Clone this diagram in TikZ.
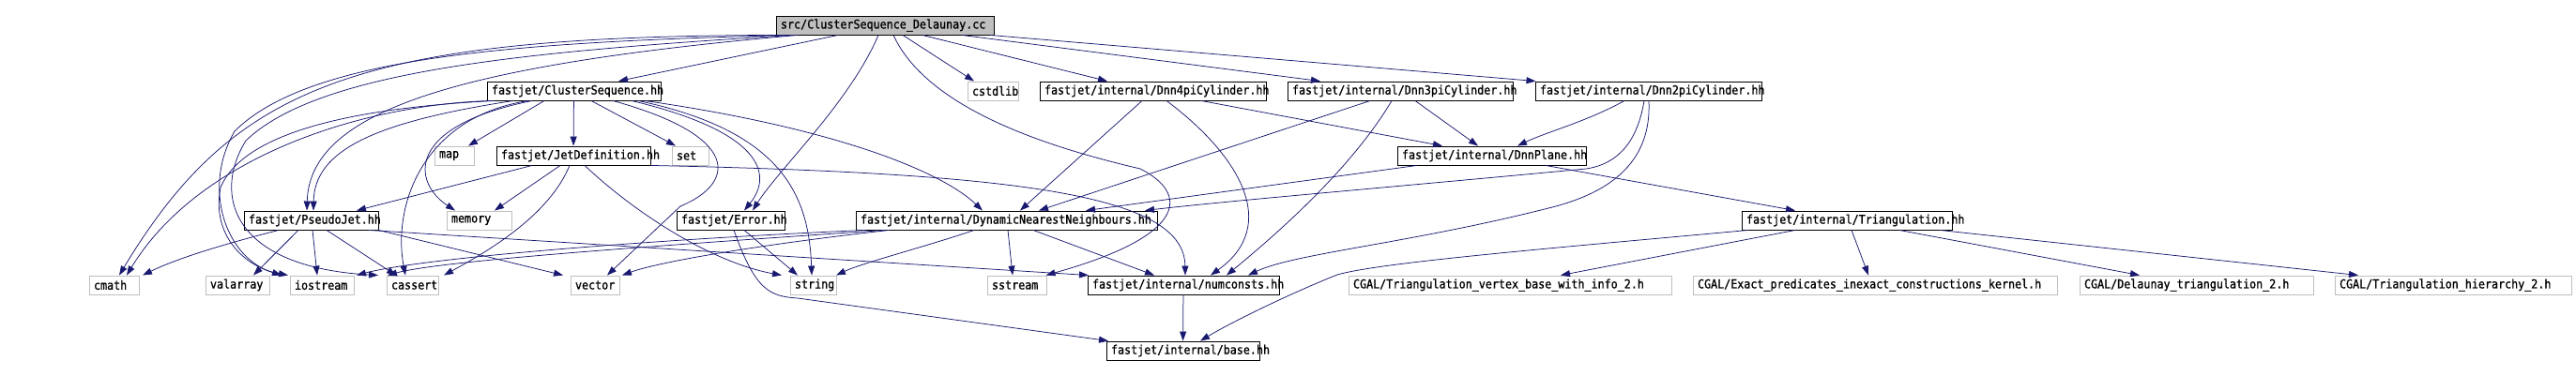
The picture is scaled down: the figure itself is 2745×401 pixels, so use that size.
\documentclass[tikz,border=0pt]{standalone}
\usepackage{fontspec}
\newfontfamily\dxfont[FakeStretch=0.9,FakeBold=1]{DejaVu Sans Mono}
\usetikzlibrary{arrows.meta}
\definecolor{navy}{HTML}{191970}
\definecolor{boxgrey}{HTML}{BFBFBF}
\hyphenpenalty=10000

\begin{document}
\begin{tikzpicture}[x=1pt,y=-1pt,
  hdr/.style={draw=black, fill=white, line width=0.9pt, minimum height=20pt, inner xsep=5pt, inner ysep=0pt,
    align=left, font=\dxfont\fontsize{13}{15}\selectfont},
  sys/.style={hdr, draw=boxgrey},
  top/.style={hdr, fill=boxgrey},
  dep/.style={draw=navy, line width=0.75pt, -{Triangle[length=10pt,width=7pt]}}]
\useasboundingbox (0,0) rectangle (2745,401);

\node[top, text width=222pt] (root) at (943,27) {src/ClusterSequence\_Delaunay.cc};
\node[hdr, text width=175pt] (CS) at (611.5,97) {fastjet/ClusterSequence.hh};
\node[sys, text width=44pt] (cstdlib) at (1058,97) {cstdlib};
\node[hdr, text width=231pt] (Dnn4pi) at (1228.5,97) {fastjet/internal/Dnn4piCylinder.hh};
\node[hdr, text width=230pt] (Dnn3pi) at (1492,97) {fastjet/internal/Dnn3piCylinder.hh};
\node[hdr, text width=231pt] (Dnn2pi) at (1756.5,97) {fastjet/internal/Dnn2piCylinder.hh};
\node[sys, text width=32pt] (map) at (484,166) {map};
\node[hdr, text width=154pt] (JetDef) at (611,166) {fastjet/JetDefinition.hh};
\node[sys, text width=29pt] (set) at (735.5,166) {set};
\node[hdr, text width=191pt] (DnnPlane) at (1589.5,166) {fastjet/internal/DnnPlane.hh};
\node[hdr, text width=133pt] (PseudoJet) at (331.5,235) {fastjet/PseudoJet.hh};
\node[sys, text width=59pt] (memory) at (510.5,235) {memory};
\node[hdr, text width=105pt] (Error) at (778.5,235) {fastjet/Error.hh};
\node[hdr, text width=311pt] (DNN) at (1072.5,235) {fastjet/internal/DynamicNearestNeighbours.hh};
\node[hdr, text width=214pt] (Triang) at (1968,235) {fastjet/internal/Triangulation.hh};
\node[sys, text width=43pt] (cmath) at (121.5,304) {cmath};
\node[sys, text width=58pt] (valarray) at (253,304) {valarray};
\node[sys, text width=58pt] (iostream) at (343,304) {iostream};
\node[sys, text width=45pt] (cassert) at (439.5,304) {cassert};
\node[sys, text width=42pt] (vector) at (634,304) {vector};
\node[sys, text width=39pt] (string) at (866.5,304) {string};
\node[sys, text width=53pt] (sstream) at (1083.5,304) {sstream};
\node[hdr, text width=194pt] (numconsts) at (1261,304) {fastjet/internal/numconsts.hh};
\node[sys, text width=334pt] (CGALvb) at (1609,304) {CGAL/Triangulation\_vertex\_base\_with\_info\_2.h};
\node[sys, text width=378pt] (CGALep) at (1998,304) {CGAL/Exact\_predicates\_inexact\_constructions\_kernel.h};
\node[sys, text width=239pt] (CGALdt) at (2340.5,304) {CGAL/Delaunay\_triangulation\_2.h};
\node[sys, text width=242pt] (CGALth) at (2614,304) {CGAL/Triangulation\_hierarchy\_2.h};
\node[hdr, text width=153pt] (base) at (1260.5,374) {fastjet/internal/base.hh};

% src/ClusterSequence_Delaunay.cc
\draw[dep] ([xshift=-108pt]root.south) .. controls (380,38) and (250,90) .. ([xshift=5.5pt]cmath.north);
\draw[dep] ([xshift=-103pt]root.south) .. controls (550,45) and (330,60) .. (250,140) .. controls (215,200) and (240,275) .. ([xshift=-43pt]iostream.north);
\draw[dep] ([xshift=-98pt]root.south) .. controls (560,55) and (340,75) .. (262,150) .. controls (225,210) and (250,285) .. ([xshift=-36.5pt]cassert.north);
\draw[dep] ([xshift=-93pt]root.south) .. controls (480,70) and (330,120) .. ([xshift=-4.5pt]PseudoJet.north);
\draw[dep] ([xshift=-50pt]root.south) -- ([xshift=47.5pt]CS.north);
\draw[dep] ([xshift=-7pt]root.south) .. controls (905,110) and (830,180) .. ([xshift=23.5pt]Error.north);
\draw[dep] ([xshift=9pt]root.south) .. controls (990,120) and (1130,160) .. (1215,180) .. controls (1265,205) and (1270,250) .. ([xshift=31pt]sstream.north);
\draw[dep] ([xshift=19pt]root.south) -- ([xshift=-20pt]cstdlib.north);
\draw[dep] ([xshift=40pt]root.south) -- ([xshift=-48.5pt]Dnn4pi.north);
\draw[dep] ([xshift=82pt]root.south) -- ([xshift=-85pt]Dnn3pi.north);
\draw[dep] ([xshift=112pt]root.south) -- ([xshift=-120pt]Dnn2pi.north);

% fastjet/ClusterSequence.hh
\draw[dep] ([xshift=-88.5pt]CS.south) .. controls (380,112) and (210,170) .. ([xshift=13.5pt]cmath.north);
\draw[dep] ([xshift=-84.5pt]CS.south) .. controls (380,115) and (260,140) .. (235,200) .. controls (225,250) and (260,285) .. ([xshift=-36pt]iostream.north);
\draw[dep] ([xshift=-64.5pt]CS.south) .. controls (400,130) and (335,160) .. ([xshift=2.5pt]PseudoJet.north);
\draw[dep] ([xshift=-48.5pt]CS.south) .. controls (450,125) and (418,220) .. ([xshift=-7.5pt]cassert.north);
\draw[dep] ([xshift=-44.5pt]CS.south) .. controls (430,135) and (440,195) .. ([xshift=-25.5pt]memory.north);
\draw[dep] ([xshift=-31.5pt]CS.south) -- ([xshift=15pt]map.north);
\draw[dep] (CS) -- (JetDef);
\draw[dep] ([xshift=18.5pt]CS.south) -- ([xshift=-15.5pt]set.north);
\draw[dep] ([xshift=41.5pt]CS.south) .. controls (790,145) and (785,195) .. (725,220) -- ([xshift=13pt]vector.north);
\draw[dep] ([xshift=61.5pt]CS.south) .. controls (810,140) and (825,185) .. ([xshift=14.5pt]Error.north);
\draw[dep] ([xshift=68.5pt]CS.south) .. controls (835,140) and (862,210) .. ([xshift=-1.5pt]string.north);
\draw[dep] ([xshift=75.5pt]CS.south) .. controls (880,135) and (1000,180) .. ([xshift=-25.5pt]DNN.north);

% fastjet/JetDefinition.hh
\draw[dep] ([xshift=-44pt]JetDef.south) -- ([xshift=48.5pt]PseudoJet.north);
\draw[dep] ([xshift=-14pt]JetDef.south) -- ([xshift=16.5pt]memory.north);
\draw[dep] ([xshift=-4pt]JetDef.south) .. controls (585,230) and (520,268) .. ([xshift=33.5pt]cassert.north);
\draw[dep] ([xshift=12pt]JetDef.south) .. controls (680,230) and (760,280) .. ([xshift=-33.5pt]string.north);
\draw[dep] (JetDef.south east) .. controls (1100,185) and (1262,210) .. ([xshift=2pt]numconsts.north);

% fastjet/PseudoJet.hh
\draw[dep] ([xshift=-34.5pt]PseudoJet.south) .. controls (240,260) and (190,275) .. ([xshift=30.5pt]cmath.north);
\draw[dep] ([xshift=-13.5pt]PseudoJet.south) -- ([xshift=17pt]valarray.north);
\draw[dep] ([xshift=1.5pt]PseudoJet.south) -- ([xshift=-5pt]iostream.north);
\draw[dep] ([xshift=16.5pt]PseudoJet.south) -- ([xshift=-17.5pt]cassert.north);
\draw[dep] (PseudoJet.south east) -- ([xshift=-34pt]vector.north);
\draw[dep] ([xshift=61.5pt]PseudoJet.south) -- ([xshift=-101pt]numconsts.north);

% fastjet/Error.hh
\draw[dep] ([xshift=14.5pt]Error.south) -- ([xshift=-16.5pt]string.north);
\draw[dep] ([xshift=3.5pt]Error.south) .. controls (805,310) and (820,316) .. (850,318) -- ([xshift=-79.5pt]base.north);

% fastjet/internal/DynamicNearestNeighbours.hh
\draw[dep] ([xshift=-150pt]DNN.south) .. controls (700,255) and (450,275) .. ([xshift=37pt]iostream.north);
\draw[dep] ([xshift=-130pt]DNN.south) .. controls (700,262) and (470,278) .. ([xshift=-26.5pt]cassert.north);
\draw[dep] ([xshift=-125pt]DNN.south) .. controls (800,262) and (700,280) .. ([xshift=29pt]vector.north);
\draw[dep] ([xshift=-34.5pt]DNN.south) .. controls (990,262) and (920,280) .. ([xshift=24.5pt]string.north);
\draw[dep] ([xshift=1.5pt]DNN.south) -- ([xshift=-4.5pt]sstream.north);
\draw[dep] ([xshift=28.5pt]DNN.south) -- ([xshift=-31pt]numconsts.north);

% cylinders and plane
\draw[dep] ([xshift=-11.5pt]Dnn4pi.south) -- ([xshift=14.5pt]DNN.north);
\draw[dep] ([xshift=14.5pt]Dnn4pi.south) .. controls (1320,165) and (1365,240) .. ([xshift=29pt]numconsts.north);
\draw[dep] ([xshift=51.5pt]Dnn4pi.south) -- ([xshift=-52.5pt]DnnPlane.north);
\draw[dep] ([xshift=-32pt]Dnn3pi.south) -- ([xshift=34.5pt]DNN.north);
\draw[dep] ([xshift=-9pt]Dnn3pi.south) .. controls (1440,180) and (1360,250) .. ([xshift=46pt]numconsts.north);
\draw[dep] ([xshift=16pt]Dnn3pi.south) -- ([xshift=-14.5pt]DnnPlane.north);
\draw[dep] ([xshift=-25.5pt]Dnn2pi.south) .. controls (1690,130) and (1650,140) .. ([xshift=27.5pt]DnnPlane.north);
\draw[dep] ([xshift=-4.5pt]Dnn2pi.south) .. controls (1745,150) and (1725,175) .. (1690,180) .. controls (1500,198) and (1300,215) .. ([xshift=147.5pt]DNN.north);
\draw[dep] ([xshift=0.5pt]Dnn2pi.south) .. controls (1760,170) and (1720,205) .. (1650,222) .. controls (1500,260) and (1380,270) .. ([xshift=69pt]numconsts.north);
\draw[dep] ([xshift=-79.5pt]DnnPlane.south) -- ([xshift=84.5pt]DNN.north);
\draw[dep] ([xshift=57.5pt]DnnPlane.south) -- ([xshift=-55pt]Triang.north);

% fastjet/internal/Triangulation.hh
\draw[dep] ([xshift=-105pt]Triang.south) .. controls (1650,265) and (1470,280) .. (1425,293) .. controls (1370,315) and (1310,345) .. ([xshift=18.5pt]base.north);
\draw[dep] ([xshift=-55pt]Triang.south) -- ([xshift=54pt]CGALvb.north);
\draw[dep] ([xshift=5pt]Triang.south) -- ([xshift=-7pt]CGALep.north);
\draw[dep] ([xshift=56pt]Triang.south) -- ([xshift=-60.5pt]CGALdt.north);
\draw[dep] ([xshift=99pt]Triang.south) -- ([xshift=-101pt]CGALth.north);
\draw[dep] (numconsts) -- (base);
\end{tikzpicture}
\end{document}
